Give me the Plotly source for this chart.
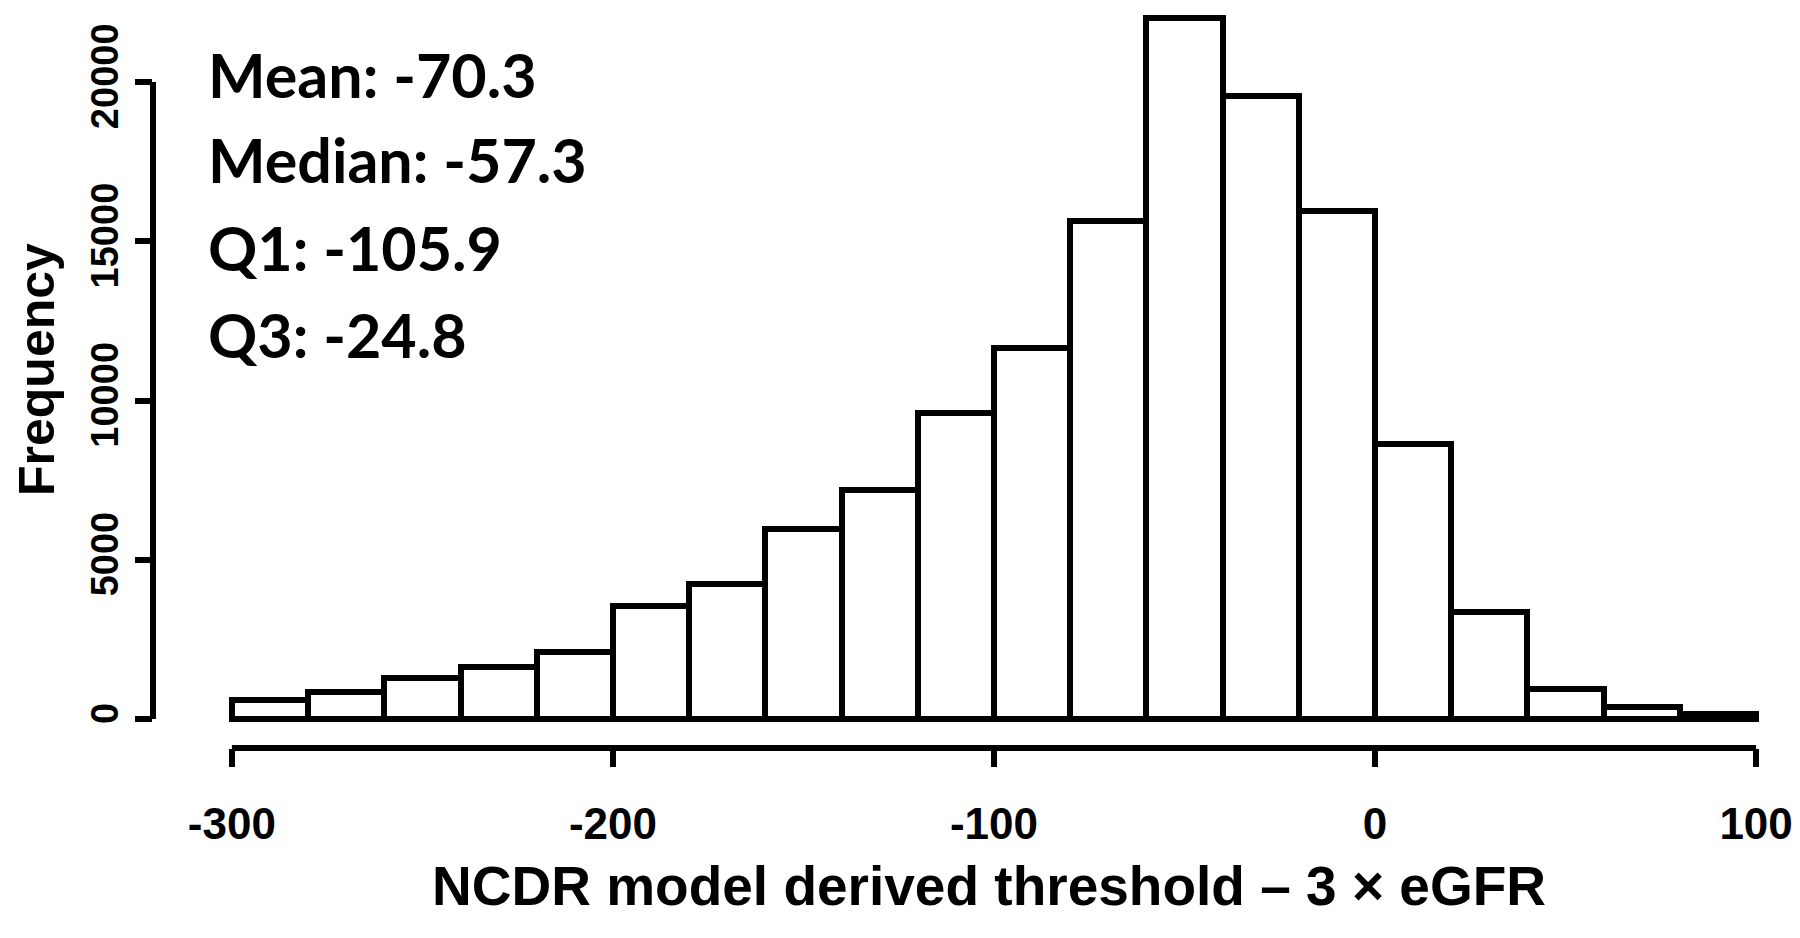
import plotly.graph_objects as go

# ---- data ----
bin_left = list(range(-300, 100, 20))
counts = [600, 850, 1300, 1620, 2100, 3550, 4250, 5980, 7200, 9600,
          11650, 15630, 22000, 19550, 15950, 8620, 3350, 950, 380, 170]
bin_width = 20
x_ticks = [-300, -200, -100, 0, 100]
y_ticks = [0, 5000, 10000, 15000, 20000]
stats_labels = ["Mean: -70.3", "Median: -57.3", "Q1: -105.9", "Q3: -24.8"]
x_title = "NCDR model derived threshold \u2013 3 \u00d7 eGFR"
y_title = "Frequency"

sans = "Liberation Sans Narrow, Arial Narrow, Liberation Sans, Arial, sans-serif"

centers = [b + bin_width / 2 for b in bin_left]

fig = go.Figure(go.Bar(
    x=centers, y=counts, width=bin_width,
    marker=dict(color="white", line=dict(color="black", width=6)),
    showlegend=False, hoverinfo="skip"))

L, R, T, B = 145, 10, 5, 198
W, H = 1800, 938
plot_w = W - L - R
plot_h = H - T - B
fig.update_layout(
    width=W, height=H,
    margin=dict(l=L, r=R, t=T, b=B, autoexpand=False),
    paper_bgcolor="white", plot_bgcolor="white",
    bargap=0,
)

fig.update_xaxes(
    range=[-320.7, 111.0], tickvals=x_ticks, ticktext=[str(v) for v in x_ticks],
    ticks="outside", ticklen=18, tickwidth=6, tickcolor="black",
    showline=False, showgrid=False, zeroline=False,
    tickfont=dict(family=sans, size=44, color="black", weight="bold"),
    ticklabelstandoff=19, ticklabeloverflow="allow",
)
fig.update_yaxes(
    range=[-910, 22166], tickvals=y_ticks, ticktext=[str(v) for v in y_ticks],
    ticks="outside", ticklen=17, tickwidth=6, tickcolor="black", tickangle=-90,
    showline=False, showgrid=False, zeroline=False,
    tickfont=dict(family=sans, size=38, color="black", weight="bold"),
    ticklabelstandoff=2,
)

# R-style axis lines spanning only the tick range
fig.add_shape(type="line", xref="x", yref="paper",
              x0=min(x_ticks), x1=max(x_ticks), y0=0, y1=0,
              line=dict(color="black", width=6))
fig.add_shape(type="line", xref="paper", yref="y",
              x0=0, x1=0, y0=min(y_ticks), y1=max(y_ticks),
              line=dict(color="black", width=6))

# axis titles (placed like the reference, slightly off-centre)
fig.add_annotation(
    text=x_title, xref="paper", yref="paper",
    x=(981 - L) / plot_w, y=(H - B - 878) / plot_h,
    xanchor="center", yanchor="middle", showarrow=False,
    font=dict(family=sans, size=55, color="black", weight="bold"))
fig.add_annotation(
    text=y_title, xref="paper", yref="paper", textangle=-90,
    x=(29 - L) / plot_w, y=(H - B - 362) / plot_h,
    xanchor="center", yanchor="middle", showarrow=False,
    font=dict(family=sans, size=50, color="black", weight="bold"))

# summary statistics text
line_px = [66.5, 152, 239.5, 326]
for txt, py in zip(stats_labels, line_px):
    fig.add_annotation(
        text=txt, xref="paper", yref="paper",
        x=(198 - L) / plot_w, y=(H - B - py) / plot_h,
        xanchor="left", yanchor="middle", showarrow=False,
        font=dict(family="Lato, Open Sans, sans-serif", size=61, color="black", weight="bold"))

fig.write_html("out.html")
